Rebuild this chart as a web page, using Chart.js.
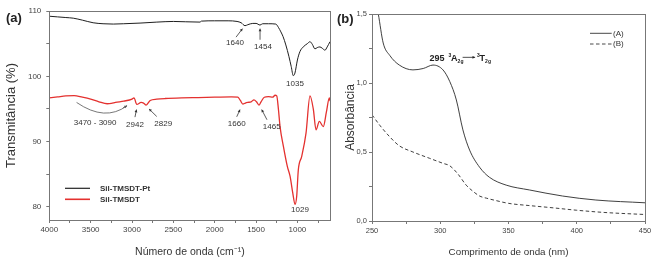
<!DOCTYPE html>
<html><head><meta charset="utf-8">
<script src="https://cdn.jsdelivr.net/npm/chart.js@4"></script>
<style>
body{margin:0;background:#fff;width:660px;height:258px;overflow:hidden;position:relative}
canvas{position:absolute;top:0}
#ca{left:0}
#cb{left:333px}
</style></head><body>
<canvas id="ca" width="333" height="258"></canvas>
<canvas id="cb" width="327" height="258"></canvas>
<script>
// ---------- Panel (a): FTIR ----------
const ftirSeries = ['Sil-TMSDT-Pt', 'Sil-TMSDT'];
const ptWavenumber = [4000,3900,3800,3710,3600,3470,3350,3226,3100,2903,2700,2500,2350,2178,2160,2000,1838,1730,1680,1634,1600,1540,1500,1452,1420,1350,1262,1230,1200,1174,1140,1102,1075,1050,1030,1000,969,930,880,848,820,788,760,728,700,667,640,606];
const ptTransmittance = [109.2,109.1,109.0,108.9,108.6,108.2,108.05,108.0,108.05,108.15,108.3,108.4,108.35,108.3,108.45,108.5,108.5,108.4,108.2,107.75,107.9,108.1,108.1,107.85,108.05,108.05,108.0,107.5,106.8,106.1,104.8,103.0,101.5,100.1,100.5,102.5,103.8,104.5,105.0,105.3,104.9,104.2,104.4,104.5,104.3,104.0,104.5,105.3];
const silWavenumber = [4000,3900,3800,3700,3600,3500,3400,3300,3250,3200,3100,3000,2976,2942,2890,2860,2829,2780,2700,2600,2400,2200,2000,1800,1720,1690,1660,1630,1600,1560,1525,1495,1465,1440,1400,1350,1300,1270,1250,1230,1210,1170,1122,1089,1057,1029,1009,989,948,896,848,808,775,735,687,650,614,605];
const silTransmittance = [96.7,96.85,97.0,97.05,96.8,96.5,96.1,95.8,95.85,96.0,96.2,96.5,96.7,95.7,96.0,95.9,95.6,96.3,96.5,96.6,96.7,96.75,96.8,96.85,96.8,96.3,95.75,95.9,96.0,96.1,96.4,96.1,95.6,96.1,96.8,96.9,96.8,97.1,97.0,95.0,92.3,89.3,86.2,84.7,82.2,80.4,81.6,85.7,87.75,91.3,97.0,95.0,91.8,93.1,92.3,94.5,96.7,96.2];
const ftirXTicks = [4000,3500,3000,2500,2000,1500,1000];
const ftirYTicks = [80,90,100,110];

// ---------- Panel (b): UV-Vis ----------
const uvSeries = ['(A)', '(B)'];
const uvAWavelength = [250,252,254.6,258.2,263,270,280,287.5,294.7,302,307,311.8,316.6,321.5,328.8,336,348.3,365.3,389.6,414,450];
const uvAAbs = [1.75,1.62,1.5,1.29,1.2,1.13,1.095,1.105,1.13,1.095,1.01,0.877,0.66,0.514,0.39,0.317,0.26,0.225,0.181,0.152,0.132];
const uvBWavelength = [250,256,263,270,280,292,302,307,313,319,324,329,334,340,350,365,380,400,420,450];
const uvBAbs = [0.77,0.69,0.61,0.545,0.5,0.455,0.418,0.4,0.34,0.26,0.215,0.18,0.165,0.15,0.128,0.112,0.098,0.078,0.062,0.047];
const uvXTicks = [250,300,350,400,450];
const uvYTicks = [0,0.5,1.0,1.5];

const FONT = "'Liberation Sans', Arial, sans-serif";
const AXC = '#777';
const TXT = '#444';

function zip(xs, ys){ return xs.map((x,i)=>({x:x, y:ys[i]})); }
function withMinor(major, step, lo, hi){
  const out=[];
  for(let v=lo; v<=hi+1e-9; v+=step){ out.push(+v.toFixed(4)); }
  return out;
}
function arrow(ctx,x1,y1,x2,y2,head){
  head = head||3;
  ctx.beginPath(); ctx.moveTo(x1,y1); ctx.lineTo(x2,y2); ctx.stroke();
  const a=Math.atan2(y2-y1,x2-x1);
  ctx.beginPath(); ctx.moveTo(x2,y2);
  ctx.lineTo(x2-head*Math.cos(a-0.5), y2-head*Math.sin(a-0.5));
  ctx.lineTo(x2-head*Math.cos(a+0.5), y2-head*Math.sin(a+0.5));
  ctx.closePath(); ctx.fill();
}
const framePlugin = {
  id:'frame',
  afterDatasetsDraw(chart){
    const {ctx, chartArea:a} = chart;
    ctx.save(); ctx.strokeStyle=AXC; ctx.lineWidth=1;
    ctx.strokeRect(Math.round(a.left)+0.5, Math.round(a.top)+0.5, Math.round(a.right-a.left), Math.round(a.bottom-a.top));
    ctx.restore();
  }
};

// Panel (a) annotations
const ftirNotes = [
  {t:'1640', x:1755, y:105.1, ax:[1742,106.0,1664,107.3]},
  {t:'1454', x:1416, y:104.55, ax:[1452,105.6,1452,107.3]},
  {t:'1035', x:1029, y:98.8},
  {t:'3470 - 3090', x:3446, y:92.95},
  {t:'2942', x:2964, y:92.6, ax:[2964,93.75,2946,94.9]},
  {t:'2829', x:2622, y:92.75, ax:[2701,93.85,2794,95.0]},
  {t:'1660', x:1734, y:92.7, ax:[1734,93.8,1694,94.9]},
  {t:'1465', x:1311, y:92.3, ax:[1368,93.35,1432,94.9]},
  {t:'1029', x:969, y:79.5}
];
const ftirAnno = {
  id:'ftirAnno',
  afterDraw(chart){
    const {ctx, chartArea:a, scales:{x,y}} = chart;
    ctx.save();
    ctx.fillStyle='#333'; ctx.strokeStyle='#333'; ctx.lineWidth=0.8;
    ctx.font = '8px '+FONT; ctx.textAlign='center'; ctx.textBaseline='middle';
    ftirNotes.forEach(n=>{
      ctx.fillText(n.t, x.getPixelForValue(n.x), y.getPixelForValue(n.y));
      if(n.ax){
        arrow(ctx, x.getPixelForValue(n.ax[0]), y.getPixelForValue(n.ax[1]), x.getPixelForValue(n.ax[2]), y.getPixelForValue(n.ax[3]), 3);
      }
    });
    // curved arrow for 3470-3090 band
    const sx=x.getPixelForValue(3670), sy=y.getPixelForValue(96.0);
    const cx=x.getPixelForValue(3325), cy=y.getPixelForValue(93.0);
    const ex=x.getPixelForValue(3060), ey=y.getPixelForValue(95.5);
    ctx.strokeStyle='#555';
    ctx.beginPath(); ctx.moveTo(sx,sy); ctx.quadraticCurveTo(cx,cy,ex,ey); ctx.stroke();
    ctx.fillStyle='#555';
    arrow(ctx, ex-4, ey+2.2, ex, ey, 3);
    // legend
    ctx.lineWidth=1.2;
    const lx=a.left+15.7, lx2=a.left+40.7;
    const ly1=a.bottom-31.7, ly2=a.bottom-20.7;
    ctx.strokeStyle='#222'; ctx.beginPath(); ctx.moveTo(lx,ly1); ctx.lineTo(lx2,ly1); ctx.stroke();
    ctx.strokeStyle='#e4312f'; ctx.lineWidth=1.6; ctx.beginPath(); ctx.moveTo(lx,ly2); ctx.lineTo(lx2,ly2); ctx.stroke();
    ctx.fillStyle='#333'; ctx.font='bold 8px '+FONT; ctx.textAlign='left';
    ctx.fillText(ftirSeries[0], a.left+50.7, ly1);
    ctx.fillText(ftirSeries[1], a.left+50.7, ly2);
    // panel label
    ctx.font='bold 13px '+FONT; ctx.fillStyle='#222';
    ctx.fillText('(a)', 6, 18);
    ctx.restore();
  }
};

new Chart(document.getElementById('ca'), {
  type:'line',
  data:{datasets:[
    {label:ftirSeries[0], data:zip(ptWavenumber, ptTransmittance), borderColor:'#1f1f1f', borderWidth:1, pointRadius:0, cubicInterpolationMode:'monotone'},
    {label:ftirSeries[1], data:zip(silWavenumber, silTransmittance), borderColor:'#e4312f', borderWidth:1.3, pointRadius:0, cubicInterpolationMode:'monotone'}
  ]},
  options:{
    responsive:false, animation:false, devicePixelRatio:1,
    layout:{padding:{left:0, right:2.5, top:11, bottom:0}},
    plugins:{legend:{display:false}, tooltip:{enabled:false}},
    scales:{
      x:{type:'linear', reverse:true, min:600, max:4000,
        afterBuildTicks(s){ s.ticks = withMinor(ftirXTicks,250,750,4000).reverse().map(v=>({value:v})); },
        afterFit(s){ s.height=38; },
        ticks:{autoSkip:false, maxRotation:0, padding:2, color:TXT, font:{family:FONT,size:8},
          callback:(v)=> ftirXTicks.includes(v)? String(v) : ''},
        grid:{drawOnChartArea:false, tickLength:3, color:AXC},
        border:{display:false},
        title:{display:true, text:'Número de onda (cm⁻¹)', color:'#333', font:{family:FONT,size:10.5}, padding:{top:4,bottom:0}}
      },
      y:{type:'linear', min:78, max:110,
        afterBuildTicks(s){ s.ticks = withMinor(ftirYTicks,5,80,110).map(v=>({value:v})); },
        afterFit(s){ s.width=49.3; },
        ticks:{autoSkip:false, padding:5, color:TXT, font:{family:FONT,size:8},
          callback:(v)=> ftirYTicks.includes(v)? String(v) : ''},
        grid:{drawOnChartArea:false, tickLength:3, color:AXC},
        border:{display:false},
        title:{display:true, text:'Transmitância (%)', color:'#333', font:{family:FONT,size:13}, padding:{top:4,bottom:0}}
      }
    }
  },
  plugins:[framePlugin, ftirAnno]
});

// Panel (b) annotations
const uvAnno = {
  id:'uvAnno',
  afterDraw(chart){
    const {ctx, chartArea:a, scales:{x,y}} = chart;
    ctx.save();
    ctx.fillStyle='#222'; ctx.strokeStyle='#222';
    const px = x.getPixelForValue(297.7), py = y.getPixelForValue(1.186);
    ctx.textBaseline='alphabetic'; ctx.textAlign='center';
    ctx.font='bold 9px '+FONT;
    ctx.fillText('295', px, py+3.5);
    ctx.textAlign='left';
    let cx = px + 11.5;
    ctx.font='bold 5px '+FONT; ctx.fillText('3', cx, py-0.5); cx+=2.5;
    ctx.font='bold 9px '+FONT; ctx.fillText('A', cx, py+3.5); cx+= ctx.measureText('A').width;
    ctx.font='bold 5px '+FONT; ctx.fillText('2g', cx, py+6); cx+=5;
    ctx.lineWidth=0.8; arrow(ctx, cx, py, cx+12.5, py, 3); cx+=14.5;
    ctx.font='bold 5px '+FONT; ctx.fillText('3', cx, py-0.5); cx+=2.5;
    ctx.font='bold 9px '+FONT; ctx.fillText('T', cx, py+3.5); cx+= ctx.measureText('T').width;
    ctx.font='bold 5px '+FONT; ctx.fillText('2g', cx, py+6);
    // legend
    const lx=a.right-55, lx2=a.right-33.3, ly1=a.top+19.3, ly2=a.top+30;
    ctx.strokeStyle='#333'; ctx.lineWidth=0.9;
    ctx.beginPath(); ctx.moveTo(lx,ly1); ctx.lineTo(lx2,ly1); ctx.stroke();
    ctx.setLineDash([3.5,2.5]);
    ctx.beginPath(); ctx.moveTo(lx,ly2); ctx.lineTo(lx2,ly2); ctx.stroke();
    ctx.setLineDash([]);
    ctx.fillStyle='#333'; ctx.font='8px '+FONT; ctx.textBaseline='middle';
    ctx.fillText(uvSeries[0], a.right-32, ly1);
    ctx.fillText(uvSeries[1], a.right-32, ly2);
    ctx.font='bold 13px '+FONT; ctx.fillStyle='#222';
    ctx.fillText('(b)', 4, 19);
    ctx.restore();
  }
};

const fmtComma = v => v.toFixed(1).replace('.', ',');
new Chart(document.getElementById('cb'), {
  type:'line',
  data:{datasets:[
    {label:uvSeries[0], data:zip(uvAWavelength, uvAAbs), borderColor:'#2a2a2a', borderWidth:0.9, pointRadius:0, cubicInterpolationMode:'monotone'},
    {label:uvSeries[1], data:zip(uvBWavelength, uvBAbs), borderColor:'#2a2a2a', borderWidth:0.9, borderDash:[3.5,2.5], pointRadius:0, cubicInterpolationMode:'monotone'}
  ]},
  options:{
    responsive:false, animation:false, devicePixelRatio:1,
    layout:{padding:{left:0, right:15, top:14, bottom:0}},
    plugins:{legend:{display:false}, tooltip:{enabled:false}},
    scales:{
      x:{type:'linear', min:250, max:450,
        afterBuildTicks(s){ s.ticks = withMinor(uvXTicks,25,250,450).map(v=>({value:v})); },
        afterFit(s){ s.height=37; },
        ticks:{autoSkip:false, maxRotation:0, padding:2, color:TXT, font:{family:FONT,size:7.5},
          callback:(v)=> uvXTicks.includes(v)? String(v) : ''},
        grid:{drawOnChartArea:false, tickLength:3, color:AXC},
        border:{display:false},
        title:{display:true, text:'Comprimento de onda (nm)', color:'#333', font:{family:FONT,size:9.8}, padding:{top:5,bottom:0}}
      },
      y:{type:'linear', min:0, max:1.5,
        afterBuildTicks(s){ s.ticks = withMinor(uvYTicks,0.25,0,1.5).map(v=>({value:v})); },
        afterFit(s){ s.width=39; },
        ticks:{autoSkip:false, padding:2, color:TXT, font:{family:FONT,size:7.5},
          callback:(v)=> uvYTicks.some(t=>Math.abs(t-v)<1e-6)? fmtComma(v) : ''},
        grid:{drawOnChartArea:false, tickLength:3, color:AXC},
        border:{display:false},
        title:{display:true, text:'Absorbância', color:'#333', font:{family:FONT,size:12}, padding:{top:10,bottom:0}}
      }
    }
  },
  plugins:[framePlugin, uvAnno]
});
</script>
</body></html>
